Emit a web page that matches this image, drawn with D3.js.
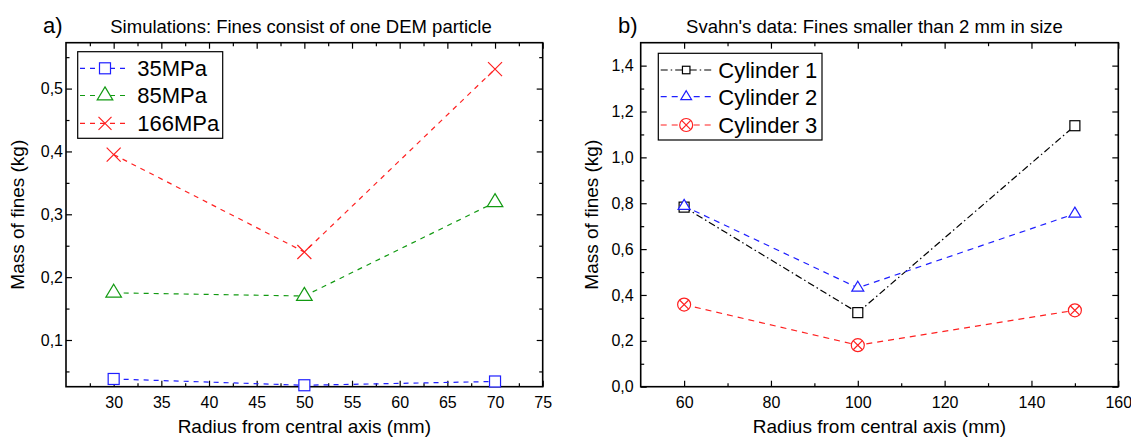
<!DOCTYPE html>
<html><head><meta charset="utf-8">
<script src="https://cdn.jsdelivr.net/npm/d3@7"></script>
<style>
body{margin:0;background:#fff}
svg{display:block}
text{font-family:"Liberation Sans",Arial,sans-serif;fill:#000}
</style>
</head><body>
<svg id="chart" width="1131" height="439"></svg>
<script>
// ---------- data: panel a ----------
const radiiA = [30, 50, 70];
const mass35 = [0.038, 0.028, 0.034];
const mass85 = [0.175, 0.170, 0.319];
const mass166 = [0.395, 0.240, 0.531];
const namesA = ["35MPa", "85MPa", "166MPa"];
const xTicksA = [30, 35, 40, 45, 50, 55, 60, 65, 70, 75];
const xMinorA = [27.5, 32.5, 37.5, 42.5, 47.5, 52.5, 57.5, 62.5, 67.5, 72.5];
const yTicksA = [0.1, 0.2, 0.3, 0.4, 0.5];
const yMinorA = [0.05, 0.15, 0.25, 0.35, 0.45, 0.55];

// ---------- data: panel b ----------
const radiiB = [60, 100, 150];
const cyl1 = [0.783, 0.323, 1.138];
const cyl2 = [0.788, 0.431, 0.754];
const cyl3 = [0.358, 0.181, 0.333];
const namesB = ["Cylinder 1", "Cylinder 2", "Cylinder 3"];
const xTicksB = [60, 80, 100, 120, 140, 160];
const xMinorB = [70, 90, 110, 130, 150];
const yTicksB = [0.0, 0.2, 0.4, 0.6, 0.8, 1.0, 1.2, 1.4];
const yMinorB = [0.1, 0.3, 0.5, 0.7, 0.9, 1.1, 1.3];

const svg = d3.select("#chart");
const comma = d => d3.format(".1f")(d).replace(".", ",");

function marker(g, type, cx, cy, s, color) {
  const m = g.append("g").attr("transform", `translate(${cx},${cy})`)
    .attr("fill", "#fff").attr("stroke", color).attr("stroke-width", 1.2);
  if (type === "square") {
    m.append("rect").attr("x", -s/2).attr("y", -s/2).attr("width", s).attr("height", s);
  } else if (type === "triangle") {
    const w = s * 1.2, h = s;
    m.append("path").attr("d", `M0,${-2*h/3}L${w/2},${h/3}L${-w/2},${h/3}Z`);
  } else if (type === "cross") {
    const r = s/2;
    m.append("path").attr("fill", "none").attr("d", `M${-r},${-r}L${r},${r}M${-r},${r}L${r},${-r}`);
  } else if (type === "circx") {
    const r = s/2, q = r * 0.7071;
    m.append("circle").attr("r", r);
    m.append("path").attr("fill", "none").attr("d", `M${-q},${-q}L${q},${q}M${-q},${q}L${q},${-q}`);
  }
}

function panel(cfg) {
  const g = svg.append("g");
  const x = d3.scaleLinear().domain(cfg.xDomain).range([cfg.left, cfg.right]);
  const y = d3.scaleLinear().domain(cfg.yDomain).range([cfg.bottom, cfg.top]);

  const styleAxis = a => {
    a.attr("font-family", null).attr("font-size", 16);
    a.selectAll(".tick line").attr("stroke", "#000").attr("stroke-width", 1.2);
    a.select(".domain").remove();
  };
  // major + minor ticks, all four sides, pointing inward
  g.append("g").attr("transform", `translate(0,${cfg.bottom})`)
    .call(d3.axisBottom(x).tickValues(cfg.xTicks).tickSize(-6).tickPadding(10).tickFormat(d3.format("d"))).call(styleAxis);
  g.append("g").attr("transform", `translate(0,${cfg.bottom})`)
    .call(d3.axisBottom(x).tickValues(cfg.xMinor).tickSize(-3.5).tickFormat("")).call(styleAxis);
  g.append("g").attr("transform", `translate(0,${cfg.top})`)
    .call(d3.axisTop(x).tickValues(cfg.xTicks).tickSize(-6).tickFormat("")).call(styleAxis);
  g.append("g").attr("transform", `translate(0,${cfg.top})`)
    .call(d3.axisTop(x).tickValues(cfg.xMinor).tickSize(-3.5).tickFormat("")).call(styleAxis);
  g.append("g").attr("transform", `translate(${cfg.left},0)`)
    .call(d3.axisLeft(y).tickValues(cfg.yTicks).tickSize(-6).tickPadding(cfg.yPad).tickFormat(comma)).call(styleAxis);
  g.append("g").attr("transform", `translate(${cfg.left},0)`)
    .call(d3.axisLeft(y).tickValues(cfg.yMinor).tickSize(-3.5).tickFormat("")).call(styleAxis);
  g.append("g").attr("transform", `translate(${cfg.right},0)`)
    .call(d3.axisRight(y).tickValues(cfg.yTicks).tickSize(-6).tickFormat("")).call(styleAxis);
  g.append("g").attr("transform", `translate(${cfg.right},0)`)
    .call(d3.axisRight(y).tickValues(cfg.yMinor).tickSize(-3.5).tickFormat("")).call(styleAxis);

  g.append("rect").attr("x", cfg.left).attr("y", cfg.top)
    .attr("width", cfg.right - cfg.left).attr("height", cfg.bottom - cfg.top)
    .attr("fill", "none").attr("stroke", "#000").attr("stroke-width", 1.6);

  // series
  const line = d3.line().x(d => x(d[0])).y(d => y(d[1]));
  cfg.series.forEach(s => {
    const pts = cfg.xs.map((v, i) => [v, s.values[i]]);
    g.append("path").datum(pts).attr("d", line).attr("fill", "none")
      .attr("stroke", s.color).attr("stroke-width", 1.2).attr("stroke-dasharray", s.dash);
  });
  cfg.series.forEach(s => {
    cfg.xs.forEach((v, i) => marker(g, s.marker, x(v), y(s.values[i]), s.size, s.color));
  });

  // legend
  const L = cfg.legend;
  g.append("rect").attr("x", L.x0).attr("y", L.y0).attr("width", L.x1 - L.x0).attr("height", L.y1 - L.y0)
    .attr("fill", "#fff").attr("stroke", "#000").attr("stroke-width", 1.2);
  cfg.series.forEach((s, i) => {
    const yy = L.rows[i];
    g.append("line").attr("x1", L.lx0).attr("x2", L.lx1).attr("y1", yy).attr("y2", yy)
      .attr("stroke", s.color).attr("stroke-width", 1.2).attr("stroke-dasharray", s.dash);
    marker(g, s.marker, (L.lx0 + L.lx1) / 2, yy, s.lsize, s.color);
    g.append("text").attr("x", L.tx).attr("y", yy).attr("dy", "0.36em")
      .attr("font-size", 22).text(s.name);
  });

  // titles & labels
  g.append("text").attr("x", cfg.tagX).attr("y", 33).attr("font-size", 22).text(cfg.tag);
  g.append("text").attr("x", cfg.titleX).attr("y", 33).attr("text-anchor", "middle")
    .attr("font-size", 18.5).text(cfg.title);
  g.append("text").attr("x", (cfg.left + cfg.right) / 2).attr("y", 433).attr("text-anchor", "middle")
    .attr("font-size", 19).text("Radius from central axis (mm)");
  g.append("text").attr("transform", `translate(${cfg.ylabX},${(cfg.top + cfg.bottom) / 2}) rotate(-90)`)
    .attr("text-anchor", "middle").attr("font-size", 19).text("Mass of fines (kg)");
}

panel({
  left: 66, right: 542.7, top: 42.7, bottom: 386.7,
  xDomain: [25, 75], yDomain: [0.0257, 0.573],
  xTicks: xTicksA, xMinor: xMinorA, yTicks: yTicksA, yMinor: yMinorA, yPad: 3,
  xs: radiiA,
  series: [
    {name: namesA[0], values: mass35, color: "#1f1fff", dash: "5,5", marker: "square", size: 11, lsize: 11},
    {name: namesA[1], values: mass85, color: "#129a12", dash: "5,5", marker: "triangle", size: 13, lsize: 13},
    {name: namesA[2], values: mass166, color: "#ff2020", dash: "5,5", marker: "cross", size: 14, lsize: 13}
  ],
  legend: {x0: 77.7, x1: 222.7, y0: 51.7, y1: 138.3, rows: [68.3, 95.5, 123.3], lx0: 80, lx1: 130, tx: 137.3},
  tag: "a)", tagX: 43, title: "Simulations: Fines consist of one DEM particle", titleX: 301,
  ylabX: 24
});

panel({
  left: 640.7, right: 1118.3, top: 42.7, bottom: 386.7,
  xDomain: [50, 160], yDomain: [0, 1.5],
  xTicks: xTicksB, xMinor: xMinorB, yTicks: yTicksB, yMinor: yMinorB, yPad: 7,
  xs: radiiB,
  series: [
    {name: namesB[0], values: cyl1, color: "#000", dash: "7,3,1.5,3", marker: "square", size: 10, lsize: 7.5},
    {name: namesB[1], values: cyl2, color: "#1f1fff", dash: "6,5", marker: "triangle", size: 10, lsize: 9},
    {name: namesB[2], values: cyl3, color: "#ff2020", dash: "6,5", marker: "circx", size: 13, lsize: 13}
  ],
  legend: {x0: 658.3, x1: 822, y0: 53.3, y1: 140, rows: [70, 96.7, 125], lx0: 660.7, lx1: 711.7, tx: 718.3},
  tag: "b)", tagX: 618, title: "Svahn's data: Fines smaller than 2 mm in size", titleX: 874.5,
  ylabX: 598
});
</script>
</body></html>
